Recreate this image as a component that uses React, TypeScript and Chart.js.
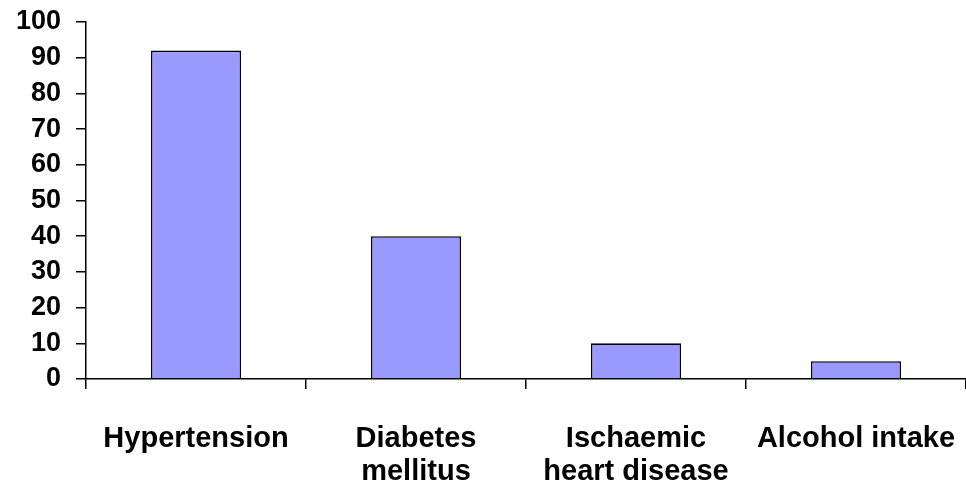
import React, { useEffect, useRef } from "react";
import { Chart, registerables } from "chart.js";

Chart.register(...registerables);

// Category labels (multi-line where the axis wraps them)
const categories: string[][] = [
  ["Hypertension"],
  ["Diabetes", "mellitus"],
  ["Ischaemic", "heart disease"],
  ["Alcohol intake"],
];

// Percentage of patients per risk factor
const values: number[] = [92, 40, 10, 5];

// Y axis range and step
const yMin = 0;
const yMax = 100;
const yStep = 10;

const FONT = "'Liberation Sans', Arial, Helvetica, sans-serif";

export default function App() {
  const canvasRef = useRef<HTMLCanvasElement | null>(null);

  useEffect(() => {
    const canvas = canvasRef.current;
    if (!canvas) return;
    const chart = new Chart(canvas, {
      type: "bar",
      data: {
        labels: categories,
        datasets: [
          {
            data: values,
            backgroundColor: "#9999FF",
            borderColor: "#000000",
            borderWidth: 1.6,
            categoryPercentage: 1,
            barPercentage: 0.41,
          },
        ],
      },
      options: {
        responsive: false,
        animation: false,
        devicePixelRatio: 1,
        layout: { padding: { top: 22, right: 0, bottom: 0, left: 0 } },
        plugins: {
          legend: { display: false },
          tooltip: { enabled: false },
        },
        scales: {
          x: {
            offset: true,
            grid: {
              offset: true,
              drawOnChartArea: false,
              drawTicks: true,
              tickLength: 10,
              color: "#000000",
              lineWidth: 1.5,
            },
            border: { display: true, color: "#000000", width: 1.5 },
            ticks: {
              color: "#000000",
              padding: 34,
              maxRotation: 0,
              autoSkip: false,
              font: { family: FONT, size: 29, weight: "bold", lineHeight: 1.12 },
            },
            afterFit: (scale: any) => {
              scale.height = 112;
              scale.paddingLeft = 0;
              scale.paddingRight = 0;
            },
          },
          y: {
            min: yMin,
            max: yMax,
            grid: {
              drawOnChartArea: false,
              drawTicks: true,
              tickLength: 10,
              color: "#000000",
              lineWidth: 1.5,
            },
            border: { display: true, color: "#000000", width: 1.5 },
            ticks: {
              stepSize: yStep,
              autoSkip: false,
              color: "#000000",
              padding: 15,
              font: { family: FONT, size: 27, weight: "bold" },
            },
            afterFit: (scale: any) => {
              scale.width = 86;
              scale.paddingTop = 0;
              scale.paddingBottom = 0;
            },
          },
        },
      },
    });
    return () => chart.destroy();
  }, []);

  return (
    <div style={{ position: "fixed", left: 0, top: 0, width: 966, height: 491, background: "#ffffff" }}>
      <canvas ref={canvasRef} width={966} height={491} style={{ display: "block" }} />
    </div>
  );
}
